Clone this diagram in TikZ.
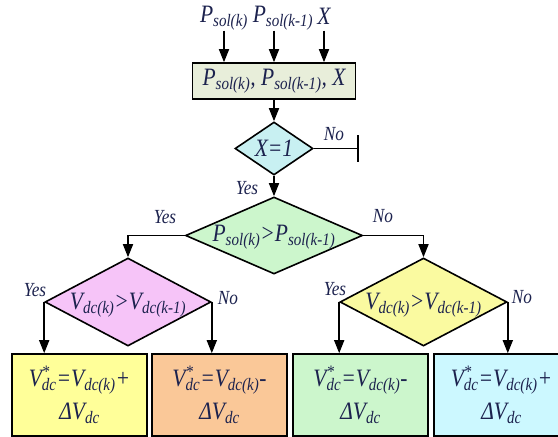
\documentclass[tikz,border=0pt]{standalone}
\usepackage{fontspec}
\setmainfont{Liberation Serif}
\newfontfamily\flowfont{Liberation Serif}[FakeStretch=0.86,
  ItalicFont={Liberation Serif Italic}]
\usetikzlibrary{positioning, arrows.meta, shapes.geometric, calc}
\definecolor{inkblue}{RGB}{28,34,78}
\definecolor{inputbg}{RGB}{232,238,218}
\definecolor{checkcyan}{RGB}{200,240,242}
\definecolor{powergreen}{RGB}{204,246,204}
\definecolor{voltpink}{RGB}{246,196,248}
\definecolor{voltyellow}{RGB}{250,250,160}
\definecolor{outyellow}{RGB}{255,255,153}
\definecolor{outpeach}{RGB}{250,200,152}
\definecolor{outgreen}{RGB}{204,246,204}
\definecolor{outcyan}{RGB}{204,248,255}
\newcommand{\subtxt}[1]{\textsubscript{#1}}
\newcommand{\vstar}{V\rlap{\textsuperscript{*}}\textsubscript{dc}}

\begin{document}
\begin{tikzpicture}[
  % one unit = one pixel of the sketch, y pointing down
  x=1pt, y=-1pt,
  >={Triangle[width=10pt,length=13pt]},
  line width=1.6pt,
  % text styles
  mathtxt/.style={text=inkblue, font=\flowfont\itshape\fontsize{25}{33}\selectfont,
    inner sep=0pt, align=center},
  answer/.style={text=inkblue, font=\flowfont\itshape\fontsize{20}{22}\selectfont,
    inner sep=0pt},
  % box and diamond styles
  databox/.style={draw, rectangle, mathtxt, minimum width=135,
    minimum height=82},
  decision/.style={draw, diamond, inner sep=0pt}
]
\clip (0,0) rectangle (558,437);

% ─── Inputs ─────────────────────────────────────────────────────────────────
\node[mathtxt] (psolk) at (224,18) {P\subtxt{sol(k)}};
\node[mathtxt] (psolkm) at (283,18) {P\subtxt{sol(k-1)}};
\node[mathtxt] (xflag) at (324,16) {X};

\node[databox, fill=inputbg, minimum width=163, minimum height=36] (inbox)
  at (274,81) {P\subtxt{sol(k)}, P\subtxt{sol(k-1)}, X};

\draw[->] (psolk.south) -- (psolk.south |- inbox.north);
\draw[->] (psolkm.south -| inbox.north) -- (inbox.north);
\draw[->] (psolk.south -| xflag.south) -- (xflag.south |- inbox.north);

% ─── X = 1 check ────────────────────────────────────────────────────────────
\node[decision, fill=checkcyan, minimum width=78, minimum height=53] (xcheck)
  at (274,148.5) {};
\node[mathtxt] at (xcheck) {X=1};
\draw[->] (inbox.south) -- (xcheck.north);

% No: stop
\draw (xcheck.east) -- ++(44,0) coordinate (halt);
\draw ([yshift=13.5pt]halt) -- ([yshift=-13.5pt]halt);
\node[answer] at (334,134) {No};

% ─── Power comparison ───────────────────────────────────────────────────────
\node[decision, fill=powergreen, minimum width=177, minimum height=77] (pcheck)
  at (274,235.5) {};
\node[mathtxt] at ([yshift=-2pt]pcheck) {P\subtxt{sol(k)}>P\subtxt{sol(k-1)}};
\draw[->] (xcheck.south) -- (pcheck.north);
\node[answer] at (247,188) {Yes};

% ─── Voltage comparisons ────────────────────────────────────────────────────
\node[decision, fill=voltpink, minimum width=166, minimum height=88] (lcheck)
  at (128,302) {};
\node[mathtxt] at ([yshift=-3pt]lcheck) {V\subtxt{dc(k)}>V\subtxt{dc(k-1)}};

\node[decision, fill=voltyellow, minimum width=167, minimum height=88] (rcheck)
  at (423.5,302) {};
\node[mathtxt] at ([yshift=-3pt]rcheck) {V\subtxt{dc(k)}>V\subtxt{dc(k-1)}};

\draw[->] (pcheck.west) -| (lcheck.north);
\draw[->] (pcheck.east) -| (rcheck.north);
\node[answer] at (165,217) {Yes};
\node[answer] at (383,216) {No};

% ─── Reference updates ──────────────────────────────────────────────────────
\node[databox, fill=outyellow] (incup) at (79.5,395)
  {\vstar=V\subtxt{dc(k)}+\\ ΔV\subtxt{dc}};
\node[databox, fill=outpeach] (decdown) at (219.5,395)
  {\vstar=V\subtxt{dc(k)}-\\ ΔV\subtxt{dc}};
\node[databox, fill=outgreen] (decup) at (360.5,395)
  {\vstar=V\subtxt{dc(k)}-\\ ΔV\subtxt{dc}};
\node[databox, fill=outcyan] (incdown) at (501.5,395)
  {\vstar=V\subtxt{dc(k)}+\\ ΔV\subtxt{dc}};

\draw[->] (lcheck.west) -- (lcheck.west |- incup.north);
\draw[->] (lcheck.east) -- (lcheck.east |- decdown.north);
\draw[->] (rcheck.west) -- (rcheck.west |- decup.north);
\draw[->] (rcheck.east) -- (rcheck.east |- incdown.north);

\node[answer] at (35,290) {Yes};
\node[answer] at (228,298) {No};
\node[answer] at (335,289) {Yes};
\node[answer] at (522,297) {No};

\end{tikzpicture}
\end{document}
